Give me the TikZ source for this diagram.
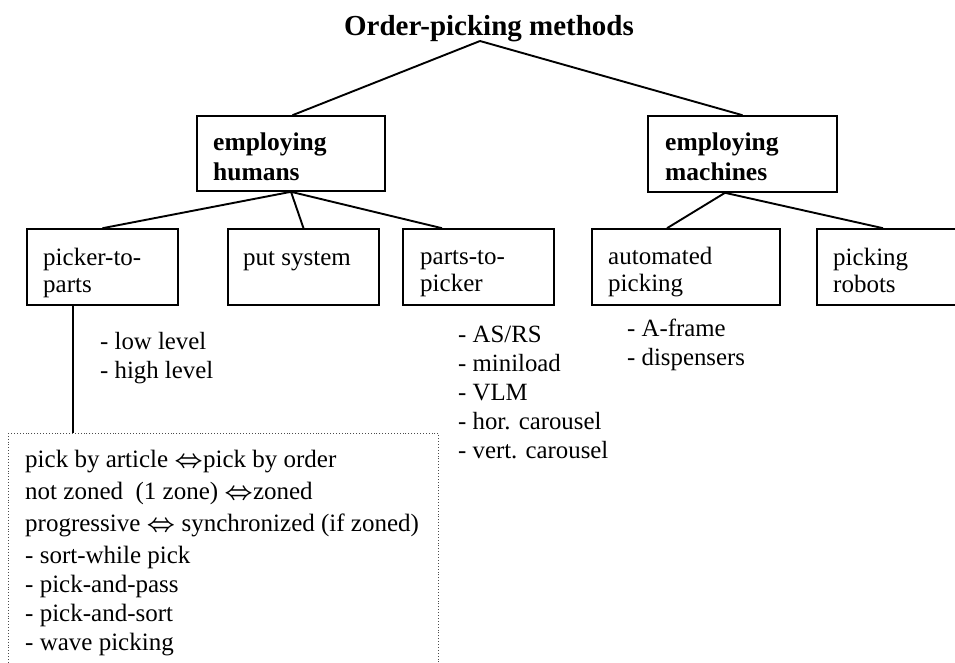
\documentclass[tikz,border=0pt]{standalone}
\usepackage{fontspec}
\setmainfont{Liberation Serif}
\usepackage{amssymb}
\tikzset{
  box/.style={draw=black, line width=1.6pt, rectangle, inner sep=0pt},
  dotbox/.style={draw=black!70, line width=0.9pt, dotted, rectangle, inner sep=0pt},
  conn/.style={draw=black, line width=1.9pt},
  txt/.style={inner sep=0pt, align=left, font=\fontsize{25}{27}\selectfont},
  bold/.style={inner sep=0pt, align=left, font=\fontsize{25.5}{30}\selectfont\bfseries},
  lst/.style={inner sep=0pt, align=left, font=\fontsize{24.8}{29}\selectfont},
}
\newcommand{\iffarrow}{\ensuremath{\boldsymbol{\Leftrightarrow}}}
\usepackage{amsmath}
\begin{document}
\begin{tikzpicture}[x=1pt,y=-1pt]
\useasboundingbox (0,0) rectangle (955,662);
\clip (0,0) rectangle (955,662);
% title
\node[inner sep=0pt, anchor=base, font=\fontsize{29}{32}\selectfont\bfseries] (title) at (489,35) {Order-picking methods};
\coordinate (apex) at (480,41);
% level 1
\node[box, minimum width=188, minimum height=75] (eh) at (291,153.5) {};
\node[box, minimum width=189, minimum height=76] (em) at (742.5,154) {};
\node[bold, anchor=base west] (eht) at (213,180) {employing\\humans};
\node[bold, anchor=base west] (emt) at (665,180) {employing\\machines};
% level 2
\node[box, minimum width=151, minimum height=76] (ptp) at (102.5,267) {};
\node[box, minimum width=151, minimum height=76] (put) at (303.5,267) {};
\node[box, minimum width=151, minimum height=76] (pkr) at (478.5,267) {};
\node[box, minimum width=188, minimum height=76] (auto) at (686,267) {};
\node[box, minimum width=188, minimum height=76] (rob) at (911,267) {};
\node[txt, anchor=base west] (ptpt) at (43,292) {picker-to-\\parts};
\node[txt, anchor=base west] (putt) at (243,265) {put system};
\node[txt, anchor=base west] (pkrt) at (420,291) {parts-to-\\picker};
\node[txt, anchor=base west] (autot) at (608,291) {automated\\picking};
\node[txt, anchor=base west] (robt) at (833,292) {picking\\robots};
% lists
\node[lst, anchor=base west] (lev) at (100,378) {- low level\\- high level};
\node[lst, anchor=base west] (ptpl) at (458,458) {- AS/RS\\- miniload\\- VLM\\- hor. carousel\\- vert. carousel};
\node[lst, anchor=base west] (autl) at (627,365) {- A-frame\\- dispensers};
% dotted box
\node[dotbox, anchor=north west, minimum width=430, minimum height=260] (db) at (8,433) {};
\node[inner sep=0pt, align=left, anchor=base west, font=\fontsize{25}{29}\selectfont] (dbt) at (25,650)
 {pick by article \iffarrow pick by order\\[3pt]
  not zoned\ \ (1 zone) \iffarrow zoned\\[3pt]
  progressive \iffarrow\ synchronized (if zoned)\\[3pt]
  - sort-while pick\\
  - pick-and-pass\\
  - pick-and-sort\\
  - wave picking};
% connectors
\draw[conn] (apex) -- ([xshift=1.5]eh.north);
\draw[conn] (apex) -- (em.north);
\draw[conn] (eh.south) -- (ptp.north);
\draw[conn] (eh.south) -- (put.north);
\draw[conn] (eh.south) -- ([xshift=-36.5]pkr.north);
\draw[conn] ([xshift=-17.5]em.south) -- ([xshift=-19]auto.north);
\draw[conn] ([xshift=-17.5]em.south) -- ([xshift=-28]rob.north);
\draw[conn] ([xshift=-29.5]ptp.south) -- ([xshift=65]db.north west);
\end{tikzpicture}
\end{document}
